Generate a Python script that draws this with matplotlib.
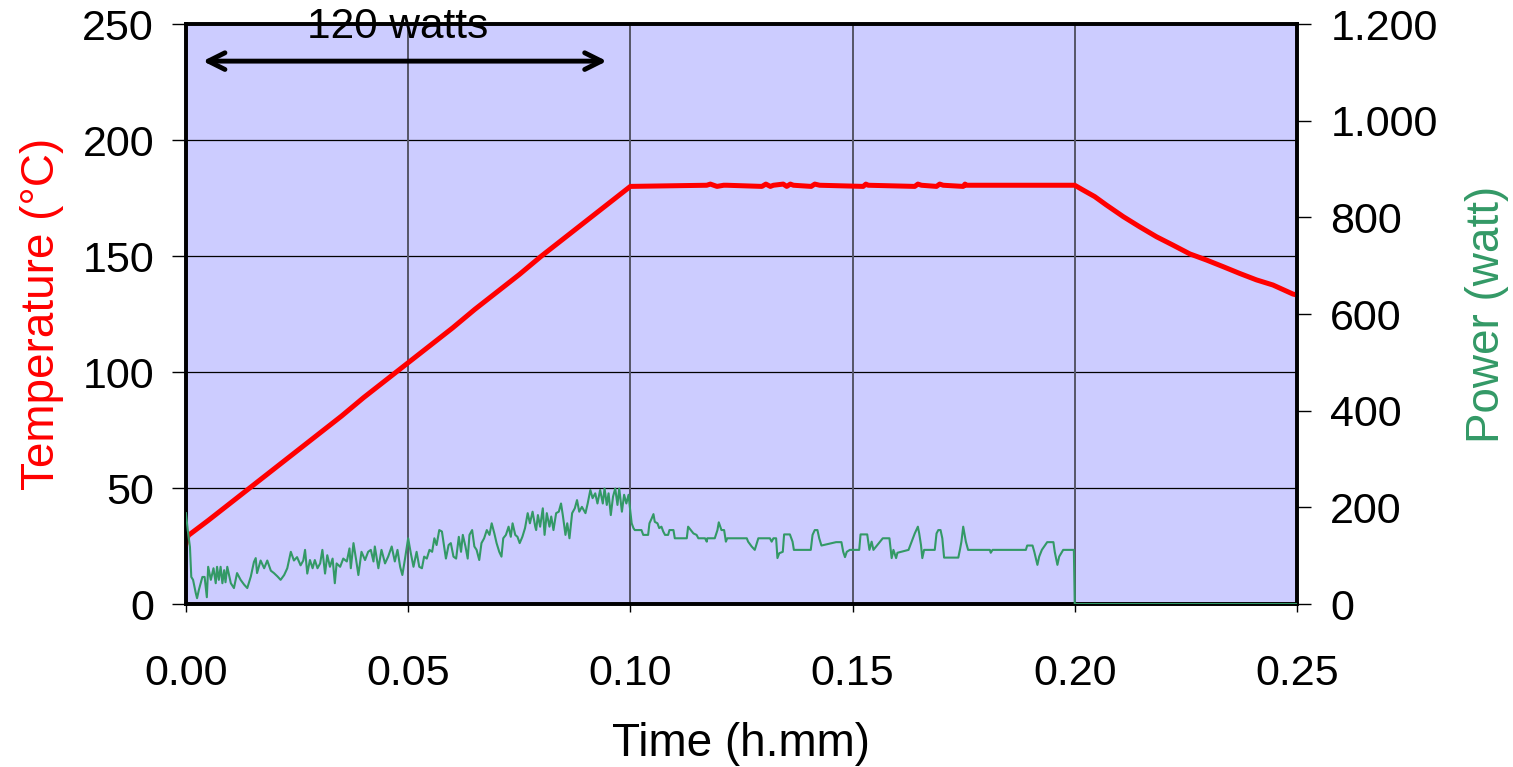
import matplotlib
matplotlib.use("Agg")
import matplotlib.pyplot as plt

plt.rcParams['font.family'] = ['Liberation Sans', 'DejaVu Sans']

# temperature (degC) vs time (h.mm)
t_temp = [0.0, 0.0005, 0.005, 0.01, 0.015, 0.02, 0.025, 0.03, 0.035, 0.04, 0.045,
          0.05, 0.055, 0.06, 0.065, 0.07, 0.075, 0.08, 0.085, 0.09, 0.095, 0.1,
          0.1172, 0.1180, 0.1195, 0.1210, 0.1217, 0.1296, 0.1305, 0.1315, 0.1322,
          0.1344, 0.1352, 0.1360, 0.1367, 0.1407, 0.1415, 0.1426, 0.1524, 0.1530,
          0.1535, 0.1640, 0.1647, 0.1655, 0.1689, 0.1696, 0.1704, 0.1749, 0.1753,
          0.1756, 0.2000, 0.2019, 0.2045, 0.2071, 0.2109, 0.2146, 0.2184, 0.2221,
          0.2259, 0.2296, 0.2334, 0.2371, 0.2409, 0.2446, 0.2491, 0.2500]
temp = [26, 29.5, 36, 43.5, 51, 58.5, 66, 73.5, 81, 89, 96.5,
        104, 111.5, 119, 127, 134.5, 142, 150, 157.5, 165, 172.5, 180,
        180.5, 181, 180, 180.5, 180.5, 180, 181, 180, 180.5,
        181, 180, 181, 180.5, 180, 181, 180.5, 180, 181,
        180.5, 180, 181, 180.5, 180, 181, 180.5, 180, 181,
        180.5, 180.5, 178.4, 175.6, 172, 167, 162.6, 158.3, 154.7,
        150.9, 148.3, 145.4, 142.5, 139.7, 137.5, 133.6, 133.2]

# power (watt) vs time
t_pow = [0.0000, 0.0004, 0.0009, 0.0012, 0.0016, 0.0022, 0.0025, 0.0029, 0.0037, 0.0042,
         0.0047, 0.0050, 0.0056, 0.0062, 0.0067, 0.0070, 0.0074, 0.0078, 0.0082, 0.0086,
         0.0089, 0.0093, 0.0101, 0.0108, 0.0115, 0.0123, 0.0131, 0.0138, 0.0146, 0.0153,
         0.0157, 0.0160, 0.0168, 0.0176, 0.0183, 0.0191, 0.0198, 0.0206, 0.0213, 0.0221,
         0.0228, 0.0236, 0.0243, 0.0250, 0.0258, 0.0264,
         0.0268, 0.0273, 0.0279, 0.0285, 0.0290, 0.0296, 0.0302, 0.0307, 0.0313, 0.0318,
         0.0324, 0.0330, 0.0335, 0.0339, 0.0347, 0.0354, 0.0362, 0.0368, 0.0371, 0.0377,
         0.0383, 0.0388, 0.0395, 0.0403, 0.0410, 0.0416, 0.0422, 0.0425, 0.0433, 0.0440,
         0.0448, 0.0455, 0.0463, 0.0470, 0.0476, 0.0482, 0.0487, 0.0493, 0.0500, 0.0506,
         0.0512, 0.0519, 0.0525,
         0.0531, 0.0536, 0.0542, 0.0548, 0.0554, 0.0559, 0.0564, 0.0570, 0.0576, 0.0581,
         0.0585, 0.0591, 0.0596, 0.0602, 0.0608, 0.0614, 0.0619, 0.0623, 0.0629, 0.0634,
         0.0638, 0.0644, 0.0649, 0.0654, 0.0660, 0.0665, 0.0671, 0.0677, 0.0683, 0.0688,
         0.0694, 0.0699, 0.0705, 0.0710, 0.0714, 0.0720, 0.0726, 0.0731, 0.0735, 0.0741,
         0.0746, 0.0751, 0.0757, 0.0763, 0.0769, 0.0774, 0.0780, 0.0786,
         0.0788, 0.0792, 0.0797, 0.0803, 0.0807, 0.0812, 0.0818, 0.0822, 0.0827, 0.0833,
         0.0839, 0.0844, 0.0848, 0.0854, 0.0858, 0.0863, 0.0869, 0.0875, 0.0880, 0.0885,
         0.0891, 0.0899, 0.0904, 0.0910, 0.0915, 0.0921, 0.0926, 0.0932, 0.0938, 0.0942,
         0.0947, 0.0951, 0.0956, 0.0961, 0.0966, 0.0971, 0.0975, 0.0981, 0.0986, 0.0991,
         0.0996, 0.1000,
         0.1003, 0.1007, 0.1010, 0.1025, 0.1029, 0.1040, 0.1043, 0.1048, 0.1052, 0.1055,
         0.1061, 0.1065, 0.1070, 0.1074, 0.1078, 0.1085, 0.1088, 0.1097, 0.1100, 0.1127,
         0.1130, 0.1136, 0.1142, 0.1149, 0.1153, 0.1168, 0.1172, 0.1173, 0.1190, 0.1196,
         0.1199, 0.1205, 0.1211, 0.1215, 0.1218, 0.1262, 0.1265, 0.1273, 0.1280, 0.1288,
         0.1314, 0.1318, 0.1322, 0.1328, 0.1331, 0.1335, 0.1343, 0.1346, 0.1359, 0.1365,
         0.1368, 0.1406, 0.1410, 0.1415, 0.1421, 0.1425, 0.1430, 0.1463, 0.1475, 0.1479,
         0.1483, 0.1487, 0.1494, 0.1515, 0.1518, 0.1533, 0.1538, 0.1543, 0.1547, 0.1568,
         0.1583, 0.1588, 0.1592, 0.1598, 0.1601, 0.1626, 0.1633, 0.1640, 0.1647, 0.1650,
         0.1654, 0.1657, 0.1661, 0.1685, 0.1689, 0.1693, 0.1698, 0.1702, 0.1706, 0.1738,
         0.1742, 0.1745, 0.1749, 0.1755, 0.1760, 0.1809, 0.1811, 0.1815, 0.1890, 0.1893,
         0.1905, 0.1909, 0.1916, 0.1920, 0.1926, 0.1938, 0.1952, 0.1955, 0.1961, 0.1965,
         0.1974, 0.1998, 0.2000, 0.2500]
power = [188, 153, 118, 56, 50, 23, 12, 29, 56, 56,
         14, 77, 50, 74, 43, 77, 50, 77, 43, 70,
         45, 77, 43, 33, 64, 50, 40, 33, 57, 87,
         95, 64, 90, 74, 90, 69, 64, 57, 50, 60,
         74, 108, 90, 97, 80, 90,
         112, 63, 91, 74, 91, 74, 84, 112, 63, 101,
         77, 94, 43, 84, 77, 94, 88, 115, 74, 126,
         91, 60, 108, 91, 108, 112, 88, 119, 74, 112,
         84, 98, 119, 88, 112, 77, 60, 94, 136, 105,
         77, 108, 77,
         74, 98, 94, 112, 108, 136, 122, 153, 150, 119,
         94, 122, 126, 98, 94, 139, 108, 143, 119, 94,
         143, 153, 119, 112, 91, 126, 136, 153, 143, 167,
         146, 126, 108, 98, 136, 143, 160, 139, 167, 143,
         139, 126, 139, 157, 188, 167, 191, 160,
         153, 184, 160, 198, 143, 188, 160, 181, 153, 188,
         191, 208, 184, 143, 167, 136, 188, 198, 215, 191,
         201, 188, 208, 236, 219, 229, 208, 236, 208, 239,
         205, 229, 184, 222, 239, 205, 239, 191, 226, 208,
         226, 191,
         167, 157, 153, 153, 143, 143, 167, 177, 186, 170,
         167, 157, 160, 150, 143, 143, 153, 153, 136, 136,
         160, 153, 146, 143, 136, 136, 129, 136, 136, 153,
         169, 153, 153, 129, 136, 136, 129, 119, 112, 136,
         136, 129, 136, 136, 95, 105, 108, 144, 144, 129,
         112, 112, 143, 153, 153, 136, 121, 128, 128, 108,
         97, 108, 112, 112, 144, 144, 112, 129, 112, 136,
         136, 95, 112, 95, 106, 112, 129, 146, 160, 146,
         122, 95, 112, 112, 146, 153, 153, 136, 96, 96,
         114, 129, 160, 129, 112, 112, 106, 112, 112, 121,
         121, 108, 81, 98, 112, 128, 128, 108, 81, 98,
         112, 112, 0, 0]

x_ticks = [0.00, 0.05, 0.10, 0.15, 0.20, 0.25]
x_ticklabels = ['0.00', '0.05', '0.10', '0.15', '0.20', '0.25']
left_ticks = [0, 50, 100, 150, 200, 250]
right_ticks = [0, 200, 400, 600, 800, 1000, 1200]
right_ticklabels = ['0', '200', '400', '600', '800', '1.000', '1.200']

fig = plt.figure(figsize=(15.13, 7.67), dpi=100)
ax = fig.add_axes([0.1229, 0.2125, 0.7343, 0.7562])
ax.set_facecolor('#CCCCFF')
ax.set_xlim(0, 0.25)
ax.set_ylim(0, 250)
ax.set_xticks(x_ticks)
ax.set_xticklabels(x_ticklabels)
ax.set_yticks(left_ticks)

for v in left_ticks[1:-1]:
    ax.axhline(v, color='black', lw=0.9, zorder=1)
for v in x_ticks[1:-1]:
    ax.axvline(v, color='#555566', lw=1.4, zorder=1)

ax.plot(t_temp, temp, color='#FF0000', lw=3.6, zorder=4)

ax2 = ax.twinx()
ax2.set_ylim(0, 1200)
ax2.set_yticks(right_ticks)
ax2.set_yticklabels(right_ticklabels)
ax2.plot(t_pow, power, color='#339966', lw=1.5, zorder=3)

for a in (ax, ax2):
    for s in a.spines.values():
        s.set_linewidth(2.6)
        s.set_color('black')
ax.tick_params(axis='x', labelsize=31, length=6, width=1, pad=30, colors='black')
ax.tick_params(axis='y', labelsize=31, length=10, width=1, pad=13)
ax2.tick_params(axis='y', labelsize=31, length=10, width=1, pad=14)

ax.set_ylabel('Temperature (°C)', color='#FF0000', fontsize=33, labelpad=13)
ax2.set_ylabel('Power (watt)', color='#339966', fontsize=33, labelpad=20)
ax.set_xlabel('Time (h.mm)', fontsize=33, labelpad=20)

ax.annotate('', xy=(0.0038, 234), xytext=(0.0947, 234),
            arrowprops=dict(arrowstyle='<->', lw=3.5, color='black', mutation_scale=30,
                            shrinkA=0, shrinkB=0), zorder=6)
ax.text(0.0477, 248.5, '120 watts', fontsize=30.5, ha='center', va='center', zorder=6)

fig.savefig('out.png', dpi=100)
